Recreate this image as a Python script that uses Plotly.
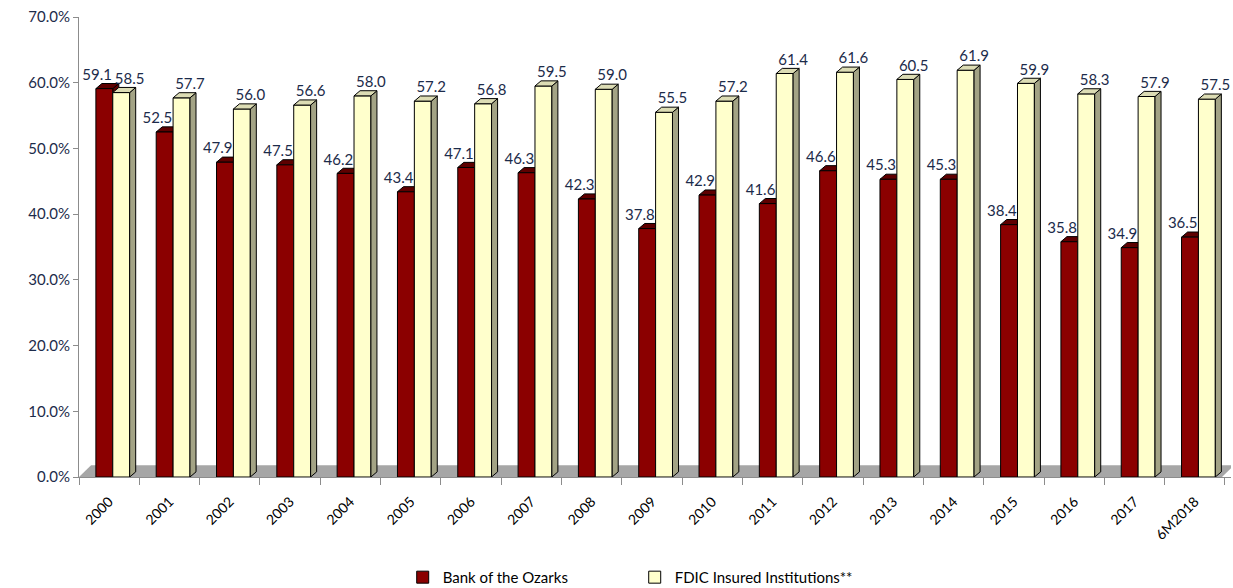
import plotly.graph_objects as go

categories = ["2000", "2001", "2002", "2003", "2004", "2005", "2006", "2007", "2008", "2009",
              "2010", "2011", "2012", "2013", "2014", "2015", "2016", "2017", "6M2018"]
bank = [59.1, 52.5, 47.9, 47.5, 46.2, 43.4, 47.1, 46.3, 42.3, 37.8,
        42.9, 41.6, 46.6, 45.3, 45.3, 38.4, 35.8, 34.9, 36.5]
fdic = [58.5, 57.7, 56.0, 56.6, 58.0, 57.2, 56.8, 59.5, 59.0, 55.5,
        57.2, 61.4, 61.6, 60.5, 61.9, 59.9, 58.3, 57.9, 57.5]
y_ticks = [0, 10, 20, 30, 40, 50, 60, 70]

RED = "#8B0000"
RED_TOP = "#5E0000"
YEL = "#FFFFCC"
YEL_TOP = "#DCDCB4"
YEL_SIDE = "#A3A385"
TXT = "#1c2b4a"
FONT = "Lato"

idx = list(range(len(categories)))
W = 0.28          # bar width (category units)
RED_OFF = -0.22
YEL_OFF = 0.06
DX = 0.10         # depth shift x (units)
DY = 0.78         # depth shift y (percent)

fig = go.Figure()

fig.add_trace(go.Bar(x=idx, y=bank, width=W, offset=RED_OFF, name="Bank of the Ozarks",
                     marker=dict(color=RED, line=dict(color="black", width=1))))
fig.add_trace(go.Bar(x=idx, y=fdic, width=W, offset=YEL_OFF, name="FDIC Insured Institutions**",
                     marker=dict(color=YEL, line=dict(color="black", width=1))))

shapes = []
n = len(categories)
# floor
shapes.append(dict(type="path", xref="x", yref="y", layer="below",
                   path=f"M -0.5,0 L {n-0.55},0 L {n-0.55+0.2},1.8 L {-0.5+0.2},1.8 Z",
                   fillcolor="#A6A6A6", line=dict(width=0)))

def face(x0, x1, v, base):
    top = f"M {x0},{v} L {x1},{v} L {x1+DX},{v+DY} L {x0+DX},{v+DY} Z"
    side = f"M {x1},{base} L {x1},{v} L {x1+DX},{v+DY} L {x1+DX},{base+DY} Z"
    return top, side

for i in idx:
    x0 = i + RED_OFF
    x1 = x0 + W
    top, side = face(x0, x1, bank[i], 0)
    shapes.append(dict(type="path", xref="x", yref="y", layer="below", path=side,
                       fillcolor=RED_TOP, line=dict(color="black", width=1)))
    shapes.append(dict(type="path", xref="x", yref="y", layer="below", path=top,
                       fillcolor=RED_TOP, line=dict(color="black", width=1)))
    x0 = i + YEL_OFF
    x1 = x0 + W
    top, side = face(x0, x1, fdic[i], 0)
    shapes.append(dict(type="path", xref="x", yref="y", layer="above", path=side,
                       fillcolor=YEL_SIDE, line=dict(color="black", width=1)))
    shapes.append(dict(type="path", xref="x", yref="y", layer="above", path=top,
                       fillcolor=YEL_TOP, line=dict(color="black", width=1)))

# value labels
fig.add_trace(go.Scatter(x=[i + RED_OFF + W / 2 - 0.12 for i in idx], y=[v + DY for v in bank],
                         mode="text", text=[f"{v:.1f}" for v in bank], textposition="top center",
                         textfont=dict(family=FONT, size=15, color=TXT), showlegend=False,
                         cliponaxis=False, hoverinfo="skip"))
fig.add_trace(go.Scatter(x=[i + YEL_OFF + W / 2 + 0.14 for i in idx], y=[v + DY for v in fdic],
                         mode="text", text=[f"{v:.1f}" for v in fdic], textposition="top center",
                         textfont=dict(family=FONT, size=15, color=TXT), showlegend=False,
                         cliponaxis=False, hoverinfo="skip"))

fig.update_layout(
    width=1233, height=588,
    margin=dict(l=79, r=2, t=17, b=111),
    paper_bgcolor="white", plot_bgcolor="white",
    shapes=shapes,
    barmode="overlay",
    font=dict(family=FONT, color=TXT),
    legend=dict(orientation="h", x=0.281, xanchor="left", yref="container", y=0.018,
                yanchor="middle", entrywidth=187, entrywidthmode="pixels",
                font=dict(family=FONT, size=15, color="black"), itemwidth=30,
                bgcolor="rgba(0,0,0,0)"),
    xaxis=dict(range=[-0.5, n - 0.4], tickmode="array", tickvals=idx, ticktext=categories,
               tickangle=-45, showgrid=False, zeroline=False, showline=True,
               linecolor="#8c8c8c", linewidth=1, ticks="", ticklen=0, ticklabelstandoff=10,
               tickfont=dict(family=FONT, size=14, color="black"),
               minor=dict(tickmode="array", tickvals=[i - 0.5 for i in range(n + 1)],
                          ticks="outside", ticklen=7, tickcolor="#8c8c8c", showgrid=False)),
    yaxis=dict(range=[0, 70], tickmode="array", tickvals=y_ticks,
               ticktext=[f"{t:.1f}%" for t in y_ticks], showgrid=False, zeroline=False,
               showline=True, linecolor="#8c8c8c", linewidth=1, ticks="outside", ticklen=5,
               tickcolor="#8c8c8c", tickfont=dict(family=FONT, size=15, color=TXT)),
)

fig.write_html("out.html")
